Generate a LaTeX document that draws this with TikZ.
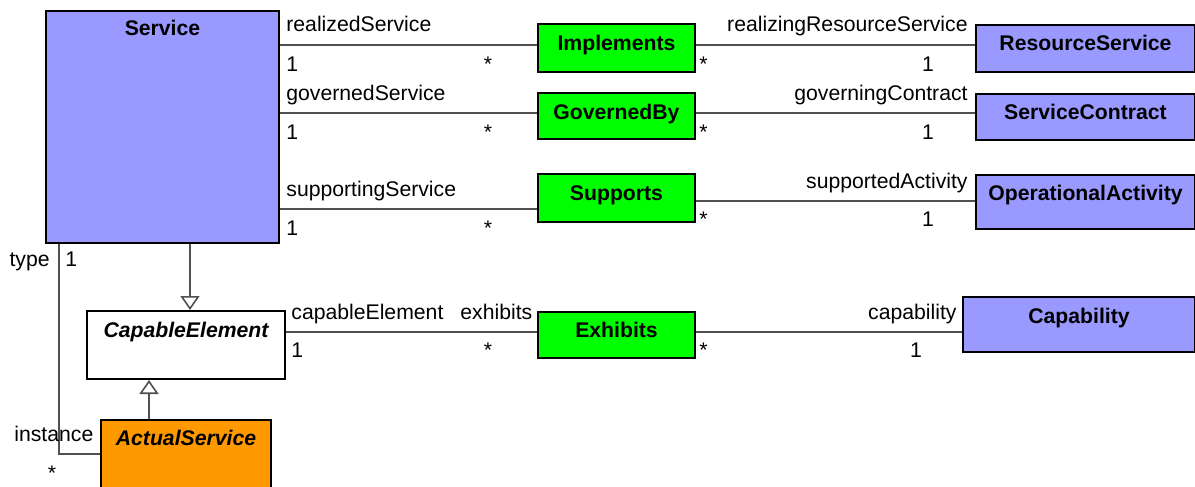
\documentclass[tikz,border=0pt]{standalone}
\usepackage{fontspec}
\setmainfont{Liberation Sans}
\usetikzlibrary{arrows.meta,calc}
\definecolor{cblue}{RGB}{153,153,255}
\definecolor{cgreen}{RGB}{0,255,0}
\definecolor{corange}{RGB}{255,153,0}
\definecolor{cline}{RGB}{80,80,80}
\begin{document}
\begin{tikzpicture}[x=0.5pt,y=-0.5pt,
  font=\fontsize{10.6}{12.5}\selectfont,
  box/.style={draw=black, line width=1pt, anchor=north west, inner sep=0pt},
  svcbox/.style={box, fill=cblue},
  assocbox/.style={box, fill=cgreen},
  ttl/.style={anchor=base, inner sep=0pt, font=\fontsize{10.6}{12.5}\selectfont\bfseries},
  ittl/.style={anchor=base, inner sep=0pt, font=\fontsize{10.6}{12.5}\selectfont\bfseries\itshape},
  lbl/.style={inner sep=0pt},
  conn/.style={draw=cline, line width=0.8pt},
  gen/.style={conn, -{Triangle[length=7pt,width=9.5pt,fill=white]}}
]
\path[use as bounding box] (0,0) rectangle (1195,487);
\clip (0,0) rectangle (1195,487);

% boxes
\node[svcbox, minimum width=116.5pt, minimum height=116pt] (svc) at (45,10) {};
\node[assocbox, minimum width=78.5pt, minimum height=24pt] (imp) at (537,23) {};
\node[assocbox, minimum width=78.5pt, minimum height=23pt] (gov) at (537,92) {};
\node[assocbox, minimum width=78.5pt, minimum height=24pt] (sup) at (537,173) {};
\node[assocbox, minimum width=78.5pt, minimum height=23pt] (exh) at (537,311) {};
\node[svcbox, minimum width=109.5pt, minimum height=23.5pt] (rs) at (975,24) {};
\node[svcbox, minimum width=109.5pt, minimum height=23pt] (sc) at (975,93) {};
\node[svcbox, minimum width=109.5pt, minimum height=27pt] (oa) at (975,174) {};
\node[svcbox, minimum width=116pt, minimum height=27.5pt] (cap) at (962,296) {};
\node[box, fill=white, minimum width=99pt, minimum height=34pt] (ce) at (86,310) {};
\node[box, fill=corange, minimum width=85pt, minimum height=45.5pt] (as) at (100,419) {};

% titles
\node[ttl] (tsvc) at ($(svc.north)+(0,25)$) {Service};
\node[ttl] (timp) at ($(imp.north)+(0,27)$) {Implements};
\node[ttl] (tgov) at ($(gov.north)+(0,27)$) {GovernedBy};
\node[ttl] (tsup) at ($(sup.north)+(0,27)$) {Supports};
\node[ttl] (texh) at ($(exh.north)+(0,26)$) {Exhibits};
\node[ttl] (trs) at ($(rs.north)+(0,26)$) {ResourceService};
\node[ttl] (tsc) at ($(sc.north)+(0,26)$) {ServiceContract};
\node[ttl] (toa) at ($(oa.north)+(0,26)$) {OperationalActivity};
\node[ttl] (tcap) at ($(cap.north)+(0,27)$) {Capability};
\node[ittl] (tce) at ($(ce.north)+(0,27)$) {CapableElement};
\node[ittl] (tas) at ($(as.north)+(0,26)$) {ActualService};

% row coordinates
\coordinate (r1) at (0,45);
\coordinate (r2) at (0,113);
\coordinate (r3l) at (0,209);
\coordinate (r3r) at (0,201);
\coordinate (r4) at (0,332);
\coordinate (g1) at (190,0);
\coordinate (g2) at (149,0);
\coordinate (t1) at (59,0);
\coordinate (t2) at (0,454);

% connectors
\draw[conn] (svc.east |- r1) -- (imp.west |- r1);
\draw[conn] (imp.east |- r1) -- (rs.west |- r1);
\draw[conn] (svc.east |- r2) -- (gov.west |- r2);
\draw[conn] (gov.east |- r2) -- (sc.west |- r2);
\draw[conn] (svc.east |- r3l) -- (sup.west |- r3l);
\draw[conn] (sup.east |- r3r) -- (oa.west |- r3r);
\draw[conn] (ce.east |- r4) -- (exh.west |- r4);
\draw[conn] (exh.east |- r4) -- (cap.west |- r4);
\draw[gen] (svc.south -| g1) -- (ce.north -| g1);
\draw[gen] (as.north -| g2) -- (ce.south -| g2);
\draw[conn] (svc.south -| t1) |- (as.west |- t2);

% row 1 labels
\node[lbl, anchor=base west] (a1) at (286,32) {realizedService};
\node[lbl, anchor=base west] (a2) at (286,71) {1};
\node[lbl, anchor=base] (a3) at (488,71) {*};
\node[lbl, anchor=base west] (a4) at (699,71) {*};
\node[lbl, anchor=base east] (a5) at (968,32) {realizingResourceService};
\node[lbl, anchor=base] (a6) at (928,71) {1};
% row 2 labels
\node[lbl, anchor=base west] (b1) at (286,100) {governedService};
\node[lbl, anchor=base west] (b2) at (286,139) {1};
\node[lbl, anchor=base] (b3) at (488,139) {*};
\node[lbl, anchor=base west] (b4) at (699,139) {*};
\node[lbl, anchor=base east] (b5) at (968,100) {governingContract};
\node[lbl, anchor=base] (b6) at (928,139) {1};
% row 3 labels
\node[lbl, anchor=base west] (c1) at (286,196) {supportingService};
\node[lbl, anchor=base west] (c2) at (286,235) {1};
\node[lbl, anchor=base] (c3) at (488,235) {*};
\node[lbl, anchor=base west] (c4) at (699,226) {*};
\node[lbl, anchor=base east] (c5) at (968,188) {supportedActivity};
\node[lbl, anchor=base] (c6) at (928,226) {1};
% row 4 labels
\node[lbl, anchor=base west] (d1) at (291,319) {capableElement};
\node[lbl, anchor=base west] (d7) at (460,319) {exhibits};
\node[lbl, anchor=base west] (d2) at (291,357) {1};
\node[lbl, anchor=base] (d3) at (488,357) {*};
\node[lbl, anchor=base west] (d4) at (699,357) {*};
\node[lbl, anchor=base east] (d5) at (957,319) {capability};
\node[lbl, anchor=base] (d6) at (916,357) {1};
% type / instance
\node[lbl, anchor=base east] (e1) at (50,266) {type};
\node[lbl, anchor=base west] (e2) at (65,266) {1};
\node[lbl, anchor=base west] (e3) at (14,441) {instance};
\node[lbl, anchor=base] (e4) at (52,480) {*};
\end{tikzpicture}
\end{document}
